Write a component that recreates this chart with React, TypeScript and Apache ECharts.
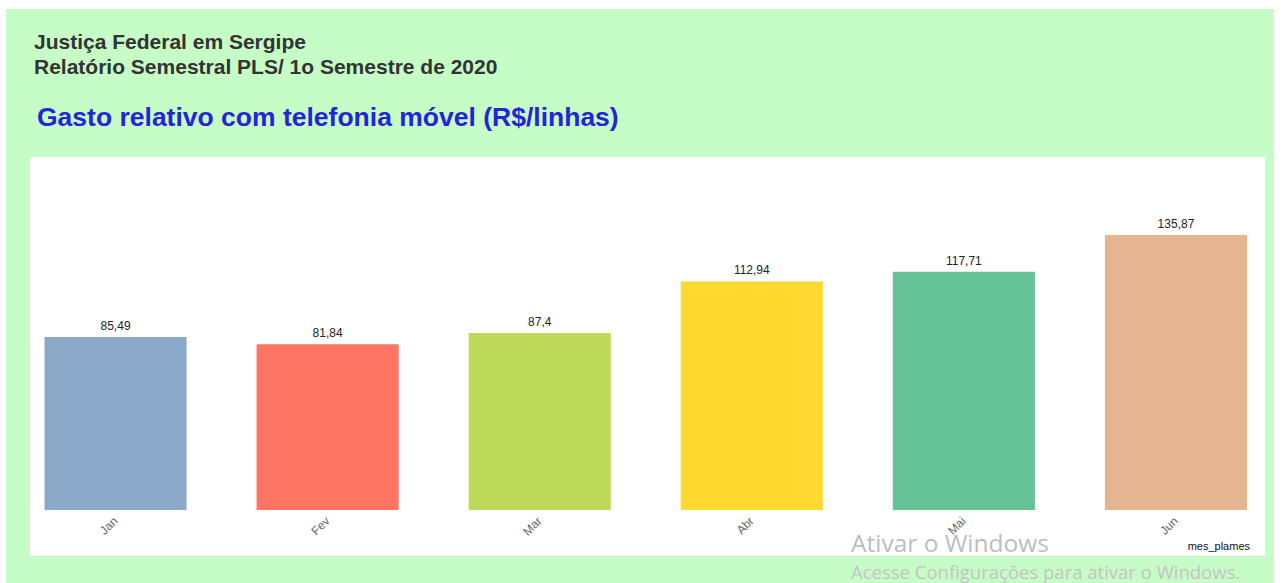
import React, { useEffect, useRef } from "react";
import * as echarts from "echarts";

const months = ["Jan", "Fev", "Mar", "Abr", "Mai", "Jun"];
const values = [85.49, 81.84, 87.4, 112.94, 117.71, 135.87];
const barColors = ["#8DA9C9", "#FF7563", "#BDD957", "#FFD92F", "#66C297", "#E5B491"];
const headerLines = ["Justiça Federal em Sergipe", "Relatório Semestral PLS/ 1o Semestre de 2020"];
const chartTitle = "Gasto relativo com telefonia móvel (R$/linhas)";
const axisName = "mes_plames";
const watermark = ["Ativar o Windows", "Acesse Configurações para ativar o Windows."];

export default function App() {
  const ref = useRef<HTMLDivElement>(null);
  useEffect(() => {
    if (!ref.current) return;
    const chart = echarts.init(ref.current, null, { renderer: "svg" });
    const font = "Liberation Sans, Arial, sans-serif";
    chart.setOption({
      animation: false,
      backgroundColor: "#ffffff",
      graphic: [
        { type: "rect", z: -10, shape: { x: 6, y: 9, width: 1268, height: 574 }, style: { fill: "#C6FCC6" } },
        { type: "rect", z: -9, shape: { x: 30, y: 157, width: 1235, height: 399 }, style: { fill: "#ffffff" } },
        { type: "text", x: 34, y: 41, style: { text: headerLines[0], fill: "#333333", font: `bold 21px ${font}`, verticalAlign: "middle" } },
        { type: "text", x: 34, y: 66, style: { text: headerLines[1], fill: "#333333", font: `bold 21px ${font}`, verticalAlign: "middle" } },
        { type: "text", x: 37, y: 117, style: { text: chartTitle, fill: "#2424D8", font: `bold 26.5px ${font}`, verticalAlign: "middle" } },
        { type: "text", x: 1250, y: 546, style: { text: axisName, fill: "#111111", font: `11px ${font}`, align: "right", verticalAlign: "middle" } },
        { type: "text", z: 100, x: 851, y: 542, style: { text: watermark[0], fill: "#BDBDBD", font: `24.5px "Open Sans", sans-serif`, lineHeight: 22, verticalAlign: "middle" } },
        { type: "text", z: 100, x: 851, y: 571, style: { text: watermark[1], fill: "#C4C4C4", font: `18.5px "Open Sans", sans-serif`, lineHeight: 17, verticalAlign: "middle" } },
      ],
      grid: { left: 9.5, right: 2, top: 170, bottom: 73, containLabel: false },
      xAxis: {
        type: "category",
        data: months,
        axisLine: { show: false },
        axisTick: { show: false },
        axisLabel: { rotate: 45, color: "#666666", fontSize: 12, fontFamily: font, margin: 9 },
      },
      yAxis: {
        type: "value",
        min: 0,
        max: 168,
        show: false,
        splitLine: { show: false },
      },
      series: [
        {
          type: "bar",
          barCategoryGap: "33%",
          data: values.map((v, i) => ({ value: v, itemStyle: { color: barColors[i] } })),
          label: {
            show: true,
            position: "top",
            distance: 5,
            color: "#222222",
            fontSize: 12,
            fontFamily: font,
            formatter: (p: any) => String(p.value).replace(".", ","),
          },
        },
      ],
    });
    return () => chart.dispose();
  }, []);
  return <div ref={ref} style={{ position: "fixed", left: 0, top: 0, width: 1284, height: 583 }} />;
}
